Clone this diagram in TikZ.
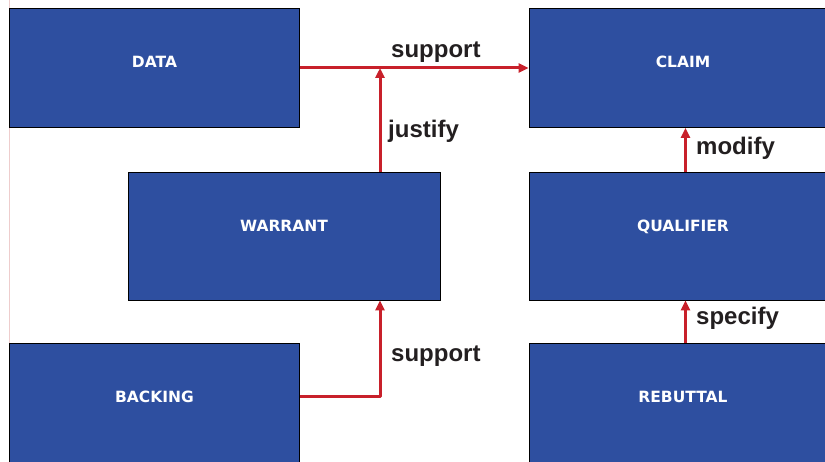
\documentclass[tikz,border=0pt]{standalone}
\usepackage{fontspec}
\setmainfont{Liberation Sans}
\newfontfamily\boxfont{DejaVu Sans}
\usetikzlibrary{arrows.meta}

\definecolor{boxblue}{RGB}{46,79,160}
\definecolor{linkred}{RGB}{200,32,42}
\definecolor{labelgray}{RGB}{35,31,32}
\definecolor{edgepink}{RGB}{238,205,205}

\tikzset{
  box/.style={draw=black, line width=0.9pt, fill=boxblue, rectangle,
    inner sep=0pt},
  boxtext/.style={text=white, inner sep=0pt, text depth=0pt,
    font=\boxfont\bfseries\fontsize{15.5}{18}\selectfont},
  conn/.style={draw=linkred, line width=3pt, line join=round,
    -{Triangle[length=10pt,width=9pt]}},
  linklabel/.style={text=labelgray, inner sep=0pt, anchor=base west,
    font=\bfseries\fontsize{24}{28}\selectfont}
}

\begin{document}
\begin{tikzpicture}[x=1pt, y=-1pt]
  \useasboundingbox (0,0) rectangle (825,462);
  \clip (0,0) rectangle (825,462);
  \fill[white] (0,0) rectangle (825,462);

  % thin margin rule on the left
  \draw[edgepink, line width=0.8pt] (9.5,0) -- (9.5,462);

  % boxes
  \node[box, minimum width=290pt, minimum height=119pt] (data) at (154.5,68) {};
  \node[box, minimum width=308pt, minimum height=119pt] (claim) at (683,68) {};
  \node[box, minimum width=312pt, minimum height=128pt] (warrant) at (284,236) {};
  \node[box, minimum width=308pt, minimum height=128pt] (qualifier) at (683,236) {};
  \node[box, minimum width=290pt, minimum height=120pt] (backing) at (154.5,403) {};
  \node[box, minimum width=308pt, minimum height=120pt] (rebuttal) at (683,403) {};

  % box titles, set a little above the box centres
  \node[boxtext] (data-t) at ([yshift=6pt]data.center) {DATA};
  \node[boxtext] (claim-t) at ([yshift=6pt]claim.center) {CLAIM};
  \node[boxtext] (warrant-t) at ([yshift=10pt]warrant.center) {WARRANT};
  \node[boxtext] (qualifier-t) at ([yshift=10pt]qualifier.center) {QUALIFIER};
  \node[boxtext] (backing-t) at ([yshift=6pt]backing.center) {BACKING};
  \node[boxtext] (rebuttal-t) at ([yshift=6pt]rebuttal.center) {REBUTTAL};

  % junction points of the connectors
  \coordinate (j) at (380,68);
  \coordinate (b) at (380,396);
  \coordinate (m) at (685.5,0);

  % connectors
  \draw[conn] (data.east) -- (claim.west);
  \draw[conn] (warrant.north -| j) -- (j);
  \draw[conn] (backing.east |- b) -- (b) -- (warrant.south -| b);
  \draw[conn] (qualifier.north -| m) -- (claim.south -| m);
  \draw[conn] (rebuttal.north -| m) -- (qualifier.south -| m);

  % connector labels
  \node[linklabel] (l-support1) at (391,58) {support};
  \node[linklabel] (l-justify) at (388,138) {justify};
  \node[linklabel] (l-modify) at (696,155) {modify};
  \node[linklabel] (l-specify) at (696,325) {specify};
  \node[linklabel] (l-support2) at (391,362) {support};
\end{tikzpicture}
\end{document}
